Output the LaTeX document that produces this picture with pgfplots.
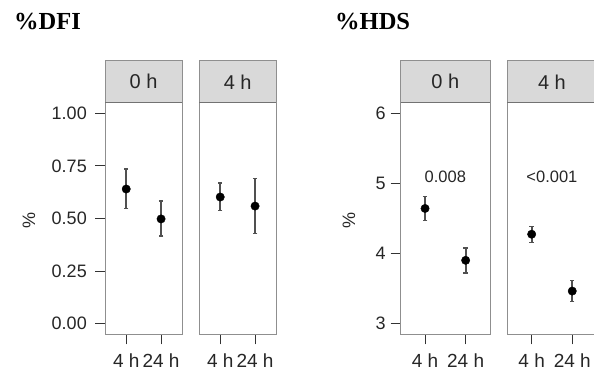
\documentclass[border=0pt]{standalone}
\usepackage{pgfplots}
\pgfplotsset{compat=1.18}
\usepackage{fontspec}
\setmainfont{Liberation Sans}
\newfontfamily\titlefont{Liberation Serif}
\usetikzlibrary{calc}
\definecolor{stripfill}{HTML}{D9D9D9}
\definecolor{framegray}{HTML}{8F8F8F}
\definecolor{bargray}{HTML}{505050}
\definecolor{tickgray}{HTML}{333333}

\pgfplotstableread{
x y ep em
1 0.640 0.095 0.093
2 0.498 0.085 0.081
}\dfiA
\pgfplotstableread{
x y ep em
1 0.602 0.067 0.063
2 0.559 0.132 0.131
}\dfiB
\pgfplotstableread{
x y ep em
1 4.643 0.171 0.172
2 3.904 0.176 0.181
}\hdsA
\pgfplotstableread{
x y ep em
1 4.276 0.114 0.115
2 3.466 0.148 0.152
}\hdsB

\newcommand{\axfont}{\fontsize{18}{20}\selectfont}
\newcommand{\xfont}{\fontsize{19}{21}\selectfont}

\pgfplotsset{
  panel/.style={
    scale only axis, height=231.6pt,
    xmin=0.4, xmax=2.6,
    xtick={1,2}, xticklabels={{\xfont 4 h},{\xfont 24 h}},
    axis line style={framegray, line width=1pt},
    tick style={tickgray, line width=1.1pt},
    major tick length=10pt,
    tick align=outside,
    xtick pos=left, ytick pos=left,
    font=\axfont,
    xticklabel style={font=\xfont, text=black!85, yshift=-6pt},
    yticklabel style={font=\axfont, text=black!85},
    clip=false,
  },
  pts/.style={
    only marks, mark=*, mark size=4.2pt, draw=black, fill=black,
    mark options={draw=black, fill=black},
    error bars/.cd, y dir=both, y explicit,
    error bar style={bargray, line width=2pt},
    error mark options={bargray, line width=1.2pt, mark size=2.2pt, rotate=90},
  },
}

\newcommand{\strip}[2]{%
  \draw[fill=stripfill, draw=framegray, line width=1pt] (#1.north west) rectangle ([yshift=41.7pt]#1.north east);
  \draw[line width=1.6pt, framegray!80!black] (#1.north west) -- (#1.north east);
  \node[font=\fontsize{20}{22}\selectfont, text=black!85] at ([yshift=20.85pt]$(#1.north west)!0.5!(#1.north east)$) {#2};
}

\begin{document}
\begin{tikzpicture}[x=1pt, y=1pt]
\useasboundingbox (0,0) rectangle (594,374);

% ---- %DFI ----
\begin{axis}[panel, name=d1, at={(105.3pt,39.7pt)}, anchor=south west, width=76.7pt,
  ymin=-0.05, ymax=1.05, ytick={0,0.25,0.5,0.75,1},
  yticklabel style={xshift=-5pt},
  yticklabels={{\axfont 0.00},{\axfont 0.25},{\axfont 0.50},{\axfont 0.75},{\axfont 1.00}}]
\addplot[pts] table[x=x, y=y, y error plus=ep, y error minus=em] {\dfiA};
\end{axis}
\begin{axis}[panel, name=d2, at={(199.3pt,39.7pt)}, anchor=south west, width=76.7pt,
  ymin=-0.05, ymax=1.05, ytick=\empty]
\addplot[pts] table[x=x, y=y, y error plus=ep, y error minus=em] {\dfiB};
\end{axis}

% ---- %HDS ----
\begin{axis}[panel, name=h1, at={(400.7pt,39.7pt)}, anchor=south west, width=89.3pt,
  ymin=2.85, ymax=6.15, ytick={3,4,5,6},
  yticklabel style={xshift=-1.5pt},
  yticklabels={{\axfont 3},{\axfont 4},{\axfont 5},{\axfont 6}}]
\addplot[pts] table[x=x, y=y, y error plus=ep, y error minus=em] {\hdsA};
\node[font=\fontsize{16.5}{18}\selectfont, text=black!85] at (axis cs:1.5,5.09) {0.008};
\end{axis}
\begin{axis}[panel, name=h2, at={(507.3pt,39.7pt)}, anchor=south west, width=89.3pt,
  ymin=2.85, ymax=6.15, ytick=\empty]
\addplot[pts] table[x=x, y=y, y error plus=ep, y error minus=em] {\hdsB};
\node[font=\fontsize{16.5}{18}\selectfont, text=black!85] at (axis cs:1.5,5.09) {<0.001};
\end{axis}

\strip{d1}{0 h}
\strip{d2}{4 h}
\strip{h1}{0 h}
\strip{h2}{4 h}

% y labels
\node[rotate=90, font=\axfont, text=black!85] at (29,153.5) {\%};
\node[rotate=90, font=\axfont, text=black!85] at (349,153.5) {\%};

% titles
\node[anchor=base west, inner sep=0pt, font=\titlefont\bfseries\fontsize{24.5}{28}\selectfont] at (14,344.7) {\%DFI};
\node[anchor=base west, inner sep=0pt, font=\titlefont\bfseries\fontsize{24.5}{28}\selectfont] at (335,344.7) {\%HDS};
\end{tikzpicture}
\end{document}
